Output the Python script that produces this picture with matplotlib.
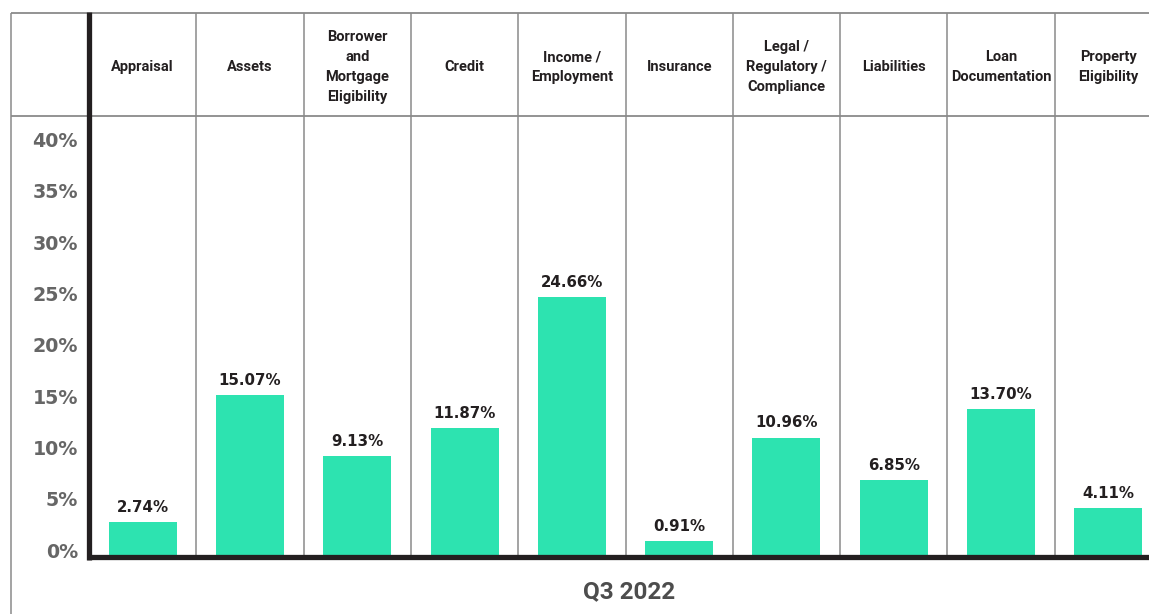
import matplotlib
matplotlib.use("Agg")
import matplotlib.pyplot as plt
from matplotlib.lines import Line2D

categories = ["Appraisal", "Assets", "Borrower\nand\nMortgage\nEligibility", "Credit",
              "Income /\nEmployment", "Insurance", "Legal /\nRegulatory /\nCompliance",
              "Liabilities", "Loan\nDocumentation", "Property\nEligibility"]
values = [2.74, 15.07, 9.13, 11.87, 24.66, 0.91, 10.96, 6.85, 13.70, 4.11]
value_labels = ["2.74%", "15.07%", "9.13%", "11.87%", "24.66%", "0.91%", "10.96%", "6.85%", "13.70%", "4.11%"]
yticks = [0, 5, 10, 15, 20, 25, 30, 35, 40]
ytick_labels = ["0%", "5%", "10%", "15%", "20%", "25%", "30%", "35%", "40%"]
period_label = "Q3 2022"

W, H = 1149, 614
BAR = "#2de3b0"
GRID = "#8a8a8a"
DARK = "#231f20"

fig = plt.figure(figsize=(W / 100, H / 100), dpi=100)
fig.patch.set_facecolor("white")

def fx(x):
    return x / W

def fy(y):
    return 1 - y / H

col_w = 107.3
x_left = 89
ncols_vis = (W - x_left) / col_w

# body axes: from y=116 to y=555 px
body_top, body_bot = 116, 555
ax = fig.add_axes([fx(x_left), fy(body_bot), fx(W - x_left), (body_bot - body_top) / H])
ppu = 10.26  # px per percent
zero_px = 550
ymin = -(body_bot - zero_px) / ppu
ymax = (zero_px - body_top) / ppu
ax.set_xlim(0, ncols_vis)
ax.set_ylim(ymin, ymax)
for s in ax.spines.values():
    s.set_visible(False)

xs = [i + 0.5 for i in range(len(values))]
ax.bar(xs, [v - ymin for v in values], bottom=ymin, width=0.634, color=BAR, zorder=2)
for x, v, lab in zip(xs, values, value_labels):
    ax.annotate(lab, (x, v), xytext=(0, 10.5), textcoords="offset points",
                ha="center", va="center", fontsize=10.8, fontweight="bold",
                color="#231f20", family="DejaVu Sans", zorder=3)

ax.set_xticks([])
ax.set_yticks(yticks)
ax.set_yticklabels(ytick_labels, fontsize=13.7, fontweight="bold", color="#666666",
                   family="DejaVu Sans")
ax.tick_params(axis="y", length=0, pad=8)
for i in range(1, len(values)):
    ax.axvline(i, color=GRID, lw=1.1, zorder=1)

# header axes: y 13 to 116
head_top = 13
hax = fig.add_axes([fx(x_left), fy(body_top), fx(W - x_left), (body_top - head_top) / H])
hax.set_xlim(0, ncols_vis)
hax.set_ylim(0, 1)
hax.axis("off")
for i in range(1, len(values)):
    hax.axvline(i, color=GRID, lw=1.1)
for x, c in zip(xs, categories):
    hax.text(x, 0.475, c, ha="center", va="center", fontsize=10.5, fontweight="bold",
             color="#231f20", family="Roboto", linespacing=1.52)

# frame lines in figure coords
def fline(x0, y0, x1, y1, color, lw):
    fig.add_artist(Line2D([fx(x0), fx(x1)], [fy(y0), fy(y1)], color=color, lw=lw,
                          transform=fig.transFigure, solid_capstyle="butt"))

fline(11, 13, W, 13, GRID, 1.3)
fline(11, 116, W, 116, GRID, 1.3)
fline(11, 13, 11, H, GRID, 1.1)
fline(x_left, 12, x_left, 560, DARK, 3.8)
fline(x_left - 2, 557, W, 557, DARK, 3.8)

fig.text(fx(629), fy(592), period_label, ha="center", va="center", fontsize=17.5,
         fontweight="bold", color="#4d4d4d", family="Roboto")

fig.savefig("out.png", dpi=100)
